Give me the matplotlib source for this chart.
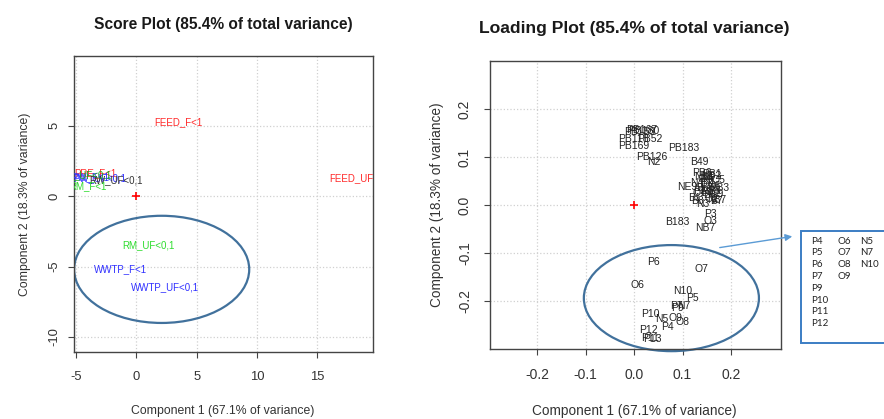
import matplotlib
matplotlib.use("Agg")
import matplotlib.pyplot as plt
from matplotlib.patches import Ellipse, Rectangle

plt.rcParams.update({
    'font.family': ['Liberation Sans', 'DejaVu Sans'],
    'axes.edgecolor': '#444444',
    'axes.unicode_minus': False,
    'xtick.color': '#444444',
    'ytick.color': '#444444',
})

# --- score plot data (PC1, PC2) ---
score_labels = ['FEED_F<1', 'FEED_UF<1', 'RM_UF<0,1', 'WWTP_F<1', 'WWTP_UF<0,1',
                'PRE_F<1', 'PW_F<1', 'PW_UF<0,1', 'RW_UF<0,1', 'RM_F<1', 'PRE_UF<0,1']
score_x = [3.5, 18.3, 1.0, -1.3, 2.4, -3.4, -3.8, -3.0, -1.7, -4.0, -4.4]
score_y = [5.25, 1.28, -3.5, -5.2, -6.45, 1.65, 1.35, 1.25, 1.1, 0.7, 1.45]
score_colors = ['#ff2a2a', '#ff2a2a', '#2edc2e', '#3030ff', '#3030ff',
                '#ff2a2a', '#3030ff', '#3030ff', '#333333', '#2edc2e', '#22aa22']

# --- loading plot data ---
load_labels = ['PB167', 'PB153', 'PB180', 'PB118', 'PB52', 'PB169', 'PB126', 'N2',
               'PB183', 'B49', 'PB6', 'PB1', 'NE9', 'N1', 'N3', 'N4', 'N6', 'N8',
               'N9', 'O1', 'O2', 'O4', 'O5', 'B1', 'B2', 'B3', 'B5', 'B6', 'B7',
               'B8', 'NB1', 'NB2', 'NB3', 'P1', 'P2', 'N87',
               'P3', 'O3', 'NB7', 'B183',
               'P6', 'O7', 'O6', 'N10', 'P5', 'N7', 'P9', 'P7', 'P10', 'N5',
               'O9', 'O8', 'P4', 'P12', 'P11', 'P13']
load_x = [0.015, 0.012, 0.02, -0.002, 0.032, 0.0, 0.037, 0.04,
          0.103, 0.134, 0.14, 0.16, 0.11, 0.155, 0.142, 0.13, 0.165, 0.15,
          0.17, 0.135, 0.16, 0.145, 0.175, 0.125, 0.15, 0.165, 0.14, 0.155, 0.17,
          0.13, 0.145, 0.16, 0.175, 0.15, 0.135, 0.17,
          0.157, 0.157, 0.146, 0.09,
          0.04, 0.138, 0.006, 0.1, 0.12, 0.103, 0.09, 0.088, 0.033, 0.058,
          0.085, 0.099, 0.068, 0.029, 0.033, 0.038]
load_y = [0.157, 0.152, 0.155, 0.137, 0.137, 0.123, 0.1, 0.09,
          0.119, 0.09, 0.067, 0.064, 0.037, 0.05, 0.002, 0.045, 0.04, 0.03,
          0.022, 0.025, 0.012, 0.055, 0.052, 0.015, 0.045, 0.03, 0.035, 0.02, 0.008,
          0.008, 0.058, 0.06, 0.035, 0.028, 0.03, 0.01,
          -0.019, -0.033, -0.048, -0.035,
          -0.119, -0.133, -0.167, -0.179, -0.193, -0.21, -0.215, -0.21, -0.227, -0.238,
          -0.235, -0.244, -0.254, -0.26, -0.277, -0.279]

box_cols = [['P4', 'P5', 'P6', 'P7', 'P9', 'P10', 'P11', 'P12'],
            ['O6', 'O7', 'O8', 'O9'],
            ['N5', 'N7', 'N10']]

W, H = 884, 419
fig = plt.figure(figsize=(W / 100, H / 100), dpi=100)


def px_axes(x0, x1, top, bottom):
    return fig.add_axes([x0 / W, 1 - bottom / H, (x1 - x0) / W, (bottom - top) / H])


def style_axes(ax, fs, xpad, ypad):
    ax.grid(True, linestyle=':', color='#d0d0d0', linewidth=0.9)
    ax.set_axisbelow(True)
    ax.tick_params(length=4, width=0.8, labelsize=fs, labelcolor='#333333')
    ax.tick_params(axis='x', pad=xpad)
    ax.tick_params(axis='y', pad=ypad)
    plt.setp(ax.get_yticklabels(), rotation=90, va='center')
    for s in ax.spines.values():
        s.set_linewidth(1.0)


# ---------------- Score plot ----------------
ax1 = px_axes(74, 373, 56, 352)
ax1.set_xlim(-5.16, 19.6)
ax1.set_ylim(-11.06, 9.93)
ax1.set_xticks([-5, 0, 5, 10, 15])
ax1.set_yticks([-10, -5, 0, 5])
style_axes(ax1, 9.4, 10, 6)
for lab, x, y, c in zip(score_labels, score_x, score_y, score_colors):
    ax1.text(x, y, lab, color=c, fontsize=7, ha='center', va='center', clip_on=True)
ax1.plot(0, 0, '+', color='red', ms=6, mew=1.2)
ax1.add_patch(Ellipse((2.1, -5.2), 14.5, 7.6, fill=False, edgecolor='#41719c', lw=1.6))
ax1.set_xlabel('Component 1 (67.1% of variance)', fontsize=8.8, color='#333333')
ax1.set_ylabel('Component 2 (18.3% of variance)', fontsize=8.8, color='#333333')
ax1.xaxis.set_label_coords(0.497, -0.18)
ax1.yaxis.set_label_coords(-0.143, 0.5)
fig.text(223 / W, 1 - 25 / H, 'Score Plot (85.4% of total variance)', fontsize=11.2,
         fontweight='bold', ha='center', va='center', color='#1a1a1a')

# ---------------- Loading plot ----------------
ax2 = px_axes(490, 781, 61, 349)
ax2.set_xlim(-0.297, 0.303)
ax2.set_ylim(-0.3, 0.3)
ticks2 = [-0.2, -0.1, 0.0, 0.1, 0.2]
tick2_labels = ['-0.2', '-0.1', '0.0', '0.1', '0.2']
ax2.set_xticks(ticks2)
ax2.set_yticks(ticks2)
ax2.set_xticklabels(tick2_labels)
ax2.set_yticklabels(tick2_labels)
style_axes(ax2, 10, 10, 9)
for lab, x, y in zip(load_labels, load_x, load_y):
    ax2.text(x, y, lab, color='#222222', fontsize=7.5, ha='center', va='center')
ax2.plot(0, 0, '+', color='red', ms=6, mew=1.2)
ax2.add_patch(Ellipse((0.077, -0.194), 0.361, 0.221, fill=False, edgecolor='#41719c',
                      lw=1.6, clip_on=False))
ax2.set_xlabel('Component 1 (67.1% of variance)', fontsize=9.8, color='#333333')
ax2.set_ylabel('Component 2 (18.3% of variance)', fontsize=9.8, color='#333333')
ax2.xaxis.set_label_coords(0.497, -0.19)
ax2.yaxis.set_label_coords(-0.158, 0.5)
fig.text(634 / W, 1 - 28 / H, 'Loading Plot (85.4% of total variance)', fontsize=12.6,
         fontweight='bold', ha='center', va='center', color='#1a1a1a')

# ---------------- callout box ----------------
fig.patches.append(Rectangle((801 / W, 1 - 343 / H), 0.2, 112 / H, transform=fig.transFigure,
                             fill=True, facecolor='white', edgecolor='#3b7dc4', lw=1.4))
ax2.annotate('', xy=(795, H - 236), xytext=(717, H - 248),
             xycoords='figure pixels', textcoords='figure pixels',
             arrowprops=dict(arrowstyle='-|>', color='#5b9bd5', lw=1.0,
                             mutation_scale=10), annotation_clip=False)
col_x = [811, 837, 860]
for cx, names in zip(col_x, box_cols):
    for i, name in enumerate(names):
        fig.text(cx / W, 1 - (241 + i * 11.8) / H, name, fontsize=7, family='Lato',
                 ha='left', va='center', color='#222222')

fig.savefig('out.png', dpi=100)
